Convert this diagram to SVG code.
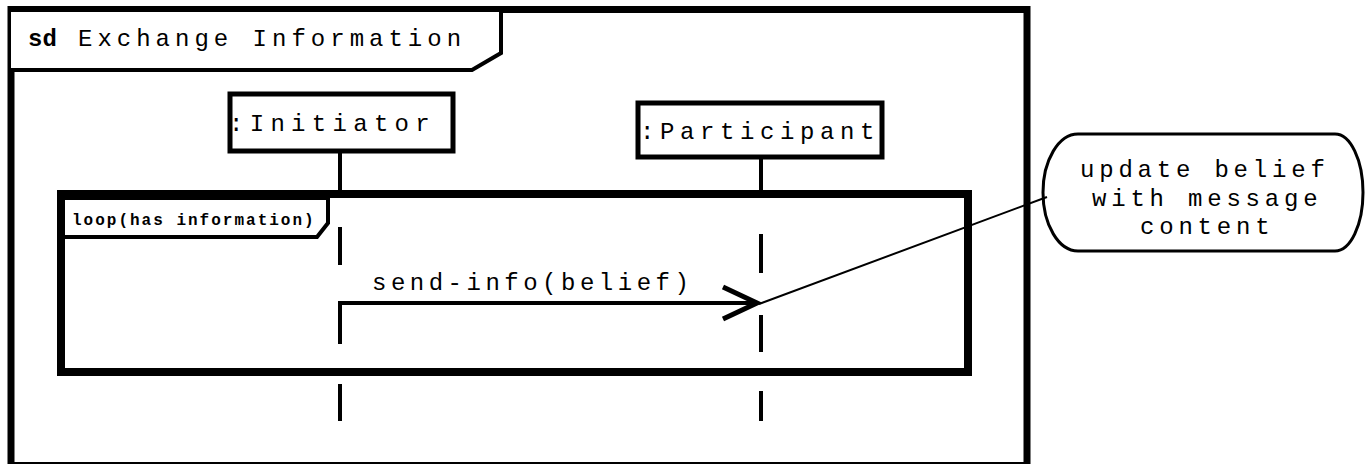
<svg xmlns="http://www.w3.org/2000/svg" width="1368" height="464" viewBox="0 0 1368 464">
  <style>
    .frame { fill: #ffffff; stroke: #000000; stroke-width: 7; }
    .tab { fill: #ffffff; stroke: #000000; stroke-width: 4; stroke-linejoin: miter; }
    .box { fill: #ffffff; stroke: #000000; stroke-width: 5; }
    .life { stroke: #000000; stroke-width: 4; fill: none; }
    .msg { stroke: #000000; stroke-width: 4; fill: none; }
    .head { stroke: #000000; stroke-width: 5; fill: none; stroke-linecap: butt; }
    .anchor { stroke: #000000; stroke-width: 2; fill: none; }
    .note { fill: #ffffff; stroke: #000000; stroke-width: 3; }
    .t { font-family: "Liberation Mono", "DejaVu Sans Mono", monospace; font-size: 24px; fill: #000000; }
    .title { letter-spacing: 5px; }
    .name { letter-spacing: 6.3px; }
    .name2 { letter-spacing: 5.6px; }
    .label { letter-spacing: 4.5px; }
    .notetext { letter-spacing: 4.8px; }
    .small { font-family: "Liberation Mono", "DejaVu Sans Mono", monospace; font-size: 16px; font-weight: bold; letter-spacing: 2px; fill: #000000; }
  </style>

  <!-- sequence diagram frame -->
  <g id="frame">
    <rect class="frame" x="11" y="9.5" width="1016" height="456"/>
    <path class="tab" d="M11,10 H501 V53 L472,70 H11"/>
    <text x="28" y="46" class="t" style="font-weight:bold;letter-spacing:0px">sd</text>
    <text x="78" y="46" class="t title">Exchange Information</text>
  </g>

  <!-- loop fragment -->
  <g id="loop">
    <rect x="61" y="194" width="907" height="178" fill="none" stroke="#000000" stroke-width="8"/>
    <path class="tab" d="M65,198 H328 V223 L317,237 H65"/>
    <text x="72" y="225" class="small">loop(has information)</text>
  </g>

  <!-- lifeline heads -->
  <g id="initiator">
    <rect class="box" x="230" y="94" width="223" height="57"/>
    <text x="229" y="131" class="t name">:Initiator</text>
  </g>
  <g id="participant">
    <rect class="box" x="638" y="103" width="244" height="54"/>
    <text x="640" y="139" class="t name2">:Participant</text>
  </g>

  <!-- note -->
  <g id="note">
    <path class="note" d="M1078,134 H1335 A28,58.5 0 0 1 1335,251 H1078 A35,58.5 0 0 1 1078,134 Z"/>
    <text x="1080" y="177" class="t notetext">update belief</text>
    <text x="1092" y="206" class="t notetext">with message</text>
    <text x="1140" y="234" class="t notetext">content</text>
  </g>

  <!-- connectors -->
  <g id="connectors">
    <!-- Initiator lifeline -->
    <line class="life" x1="340" y1="151" x2="340" y2="192"/>
    <line class="life" x1="340" y1="227" x2="340" y2="265"/>
    <line class="life" x1="340" y1="301" x2="340" y2="344"/>
    <line class="life" x1="340" y1="384" x2="340" y2="421"/>
    <!-- Participant lifeline -->
    <line class="life" x1="761" y1="157" x2="761" y2="192"/>
    <line class="life" x1="761" y1="234" x2="761" y2="273"/>
    <line class="life" x1="761" y1="315" x2="761" y2="352"/>
    <line class="life" x1="761" y1="391" x2="761" y2="421"/>
    <!-- message send-info(belief) -->
    <line class="msg" x1="338" y1="303" x2="757" y2="303"/>
    <polyline class="head" points="723,287 757,303 723,319"/>
    <text x="372" y="290" class="t label">send-info(belief)</text>
    <!-- note anchor -->
    <line class="anchor" x1="759" y1="304" x2="1047" y2="197"/>
  </g>
</svg>
